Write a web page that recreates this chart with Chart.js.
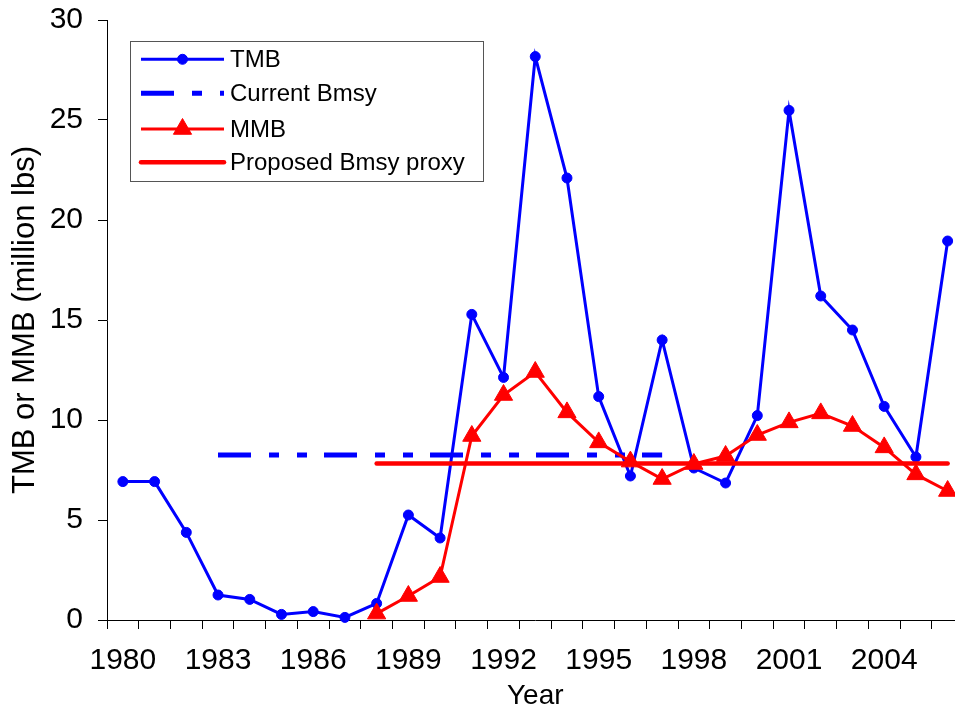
<!DOCTYPE html>
<html lang="en">
<head>
  <meta charset="UTF-8" />
  <title>TMB and MMB</title>
  <style>
    body, html {
      margin: 0;
      padding: 0;
      overflow: hidden;
      background: #fff;
    }
    #wrap {
      position: absolute;
      left: 0;
      top: 0;
      width: 975px;
      height: 707px;
    }
  </style>
</head>
<body>

<div id="wrap">
  <canvas id="bioChart" width="975" height="707"></canvas>
</div>

<script src="https://cdn.jsdelivr.net/npm/chart.js"></script>
<script>
  // values (million lbs)
  const years = ['1980', '1981', '1982', '1983', '1984', '1985', '1986', '1987', '1988',
                 '1989', '1990', '1991', '1992', '1993', '1994', '1995', '1996', '1997',
                 '1998', '1999', '2000', '2001', '2002', '2003', '2004', '2005', '2006'];
  const tmb = [6.92, 6.92, 4.38, 1.25, 1.03, 0.28, 0.42, 0.13, 0.83,
               5.25, 4.1, 15.28, 12.13, 28.17, 22.1, 11.17, 7.2, 14.0,
               7.6, 6.85, 10.22, 25.48, 16.2, 14.5, 10.68, 8.15, 18.95];
  const mmb = [null, null, null, null, null, null, null, null, 0.32,
               1.2, 2.15, 9.2, 11.25, 12.4, 10.38, 8.88, 7.92, 7.05,
               7.8, 8.2, 9.25, 9.88, 10.33, 9.7, 8.63, 7.28, 6.45];
  const currentBmsyYears = ['1983', '1997'];
  const currentBmsy = [8.25, 8.25];
  const proxyYears = ['1988', '2006'];
  const proxyBmsy = [7.83, 7.83];
  const yTicks = [0, 5, 10, 15, 20, 25, 30];
  const labelEvery = 3;

  const FONT = "'Liberation Sans', Arial, sans-serif";
  const BLUE = '#0000ff';
  const RED = '#ff0000';
  const bmsyDash = [33, 18, 10, 18, 10, 17];

  function pairs(xs, ys) {
    return xs.map(function (x, i) { return { x: x, y: ys[i] }; });
  }

  // Excel-like legend box drawn on the canvas
  const boxLegend = {
    id: 'boxLegend',
    afterDraw(chart) {
      const ctx = chart.ctx;
      const rows = [59.3, 93.3, 129, 162.3];
      const x0 = 141, x1 = 224, tx = 230;
      ctx.save();
      ctx.fillStyle = '#fff';
      ctx.fillRect(130.5, 41.5, 353, 140);
      ctx.strokeStyle = '#555';
      ctx.lineWidth = 1;
      ctx.strokeRect(130.5, 41.5, 353, 140);

      chart.data.datasets.forEach(function (ds, i) {
        const y = rows[i];
        ctx.save();
        ctx.strokeStyle = ds.borderColor;
        ctx.lineWidth = ds.borderWidth;
        ctx.lineCap = ds.borderCapStyle || 'butt';
        ctx.setLineDash(ds.borderDash || []);
        ctx.beginPath();
        ctx.moveTo(x0, y);
        ctx.lineTo(x1, y);
        ctx.stroke();
        ctx.restore();
        if (ds.pointRadius > 0) {
          ctx.fillStyle = ds.pointBackgroundColor;
          ctx.strokeStyle = ds.pointBorderColor;
          Chart.helpers.drawPoint(ctx, {
            pointStyle: ds.pointStyle,
            radius: ds.pointRadius,
            borderWidth: ds.pointBorderWidth,
            rotation: 0
          }, (x0 + x1) / 2, y);
        }
        ctx.fillStyle = '#000';
        ctx.font = '24px ' + FONT;
        ctx.textBaseline = 'middle';
        ctx.textAlign = 'left';
        ctx.fillText(ds.label, tx, y + 1);
      });
      ctx.restore();
    }
  };

  const ctx = document.getElementById('bioChart').getContext('2d');
  new Chart(ctx, {
    type: 'line',
    data: {
      labels: years,
      datasets: [{
        label: 'TMB',
        data: tmb,
        borderColor: BLUE,
        borderWidth: 3,
        pointStyle: 'circle',
        pointRadius: 5,
        pointBorderWidth: 1,
        pointBackgroundColor: BLUE,
        pointBorderColor: BLUE,
        tension: 0,
        clip: false,
        order: 4
      }, {
        label: 'Current Bmsy',
        data: pairs(currentBmsyYears, currentBmsy),
        borderColor: BLUE,
        borderWidth: 5,
        borderDash: bmsyDash,
        borderCapStyle: 'butt',
        pointRadius: 0,
        order: 3
      }, {
        label: 'MMB',
        data: mmb,
        borderColor: RED,
        borderWidth: 3,
        pointStyle: 'triangle',
        pointRadius: 10.5,
        pointBorderWidth: 1,
        pointBackgroundColor: RED,
        pointBorderColor: RED,
        tension: 0,
        clip: false,
        order: 2
      }, {
        label: 'Proposed Bmsy proxy',
        data: pairs(proxyYears, proxyBmsy),
        borderColor: RED,
        borderWidth: 4.5,
        borderCapStyle: 'round',
        pointRadius: 0,
        clip: false,
        order: 1
      }]
    },
    options: {
      responsive: false,
      animation: false,
      layout: { padding: { top: 20, left: 0, right: 10, bottom: 0 } },
      plugins: {
        legend: { display: false },
        tooltip: { enabled: false }
      },
      scales: {
        x: {
          type: 'category',
          offset: true,
          grid: {
            offset: true,
            drawOnChartArea: false,
            drawTicks: true,
            tickLength: 9,
            color: '#000'
          },
          border: { display: true, color: '#000', width: 1 },
          ticks: {
            autoSkip: false,
            maxRotation: 0,
            padding: 14,
            color: '#000',
            font: { family: FONT, size: 30 },
            callback: function (v, i) { return i % labelEvery === 0 ? years[i] : ''; }
          },
          title: {
            display: true,
            text: 'Year',
            color: '#000',
            padding: 0,
            font: { family: FONT, size: 28, lineHeight: '22px' }
          },
          afterFit: function (s) { s.height = 87; }
        },
        y: {
          min: 0,
          max: 30,
          afterBuildTicks: function (s) { s.ticks = yTicks.map(function (v) { return { value: v }; }); },
          grid: {
            drawOnChartArea: false,
            drawTicks: true,
            tickLength: 9,
            color: '#000'
          },
          border: { display: true, color: '#000', width: 1 },
          ticks: {
            padding: 15,
            color: '#000',
            font: { family: FONT, size: 30 }
          },
          title: {
            display: true,
            text: 'TMB or MMB (million lbs)',
            color: '#000',
            padding: { top: 7, bottom: 0 },
            font: { family: FONT, size: 31 }
          },
          afterFit: function (s) {
            s.width = 107;
            s.paddingTop = 0;
            s.paddingBottom = 0;
          }
        }
      }
    },
    plugins: [boxLegend]
  });
</script>
</body>
</html>
